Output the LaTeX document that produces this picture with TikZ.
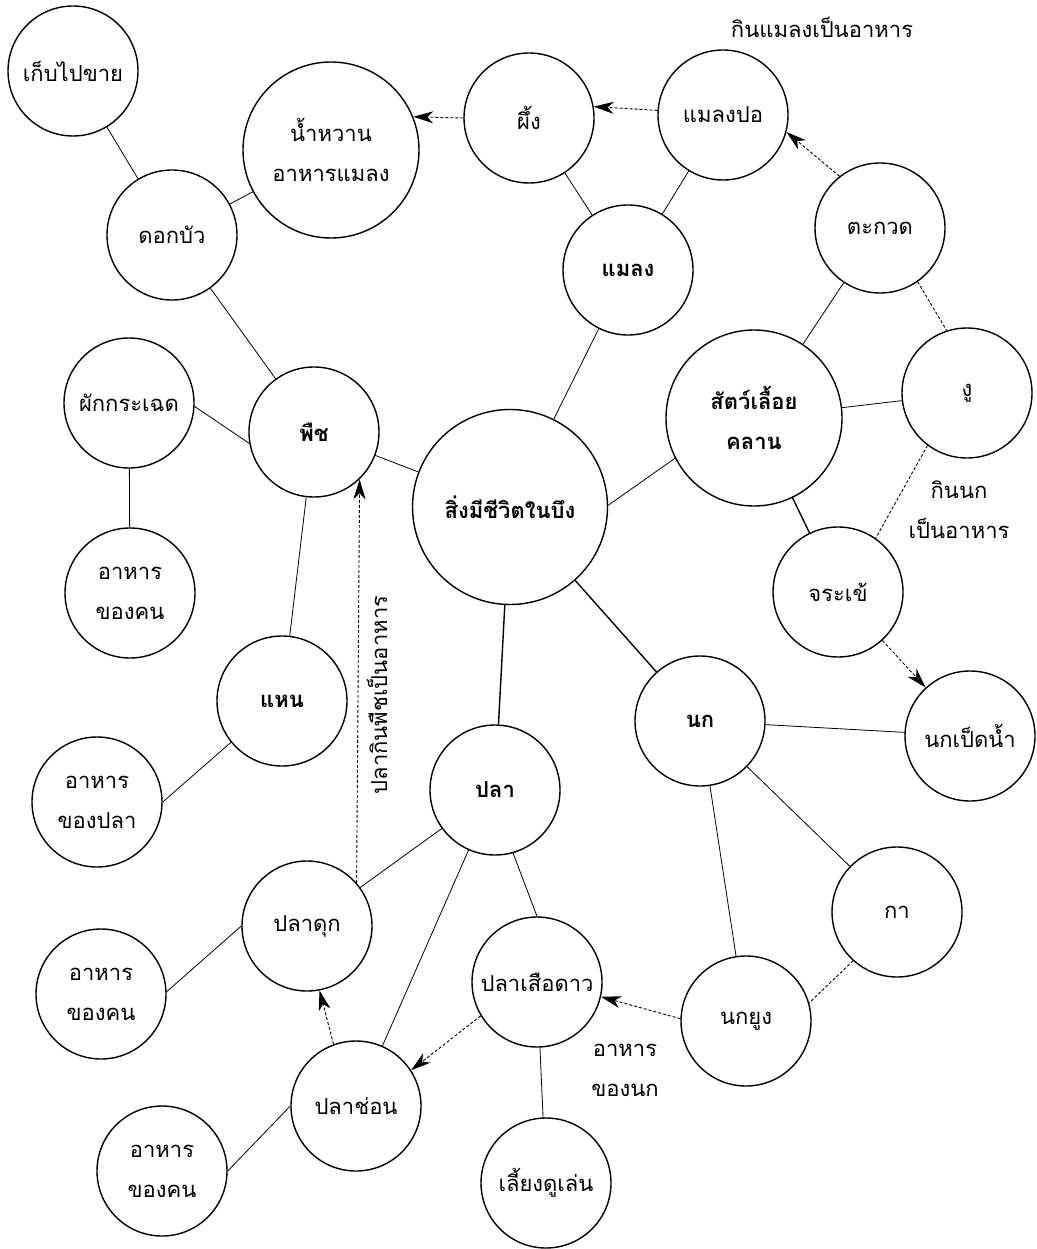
\documentclass[tikz,border=0pt]{standalone}
\usepackage{fontspec}
\setmainfont[Script=Thai]{Loma}
\usetikzlibrary{arrows.meta}

\begin{document}
\begin{tikzpicture}
    [%%%%%%%%%%%%%%%%%%%%%%%%%%%%%%
        x=1pt, y=-1pt,
        every node/.style={font=\fontsize{22}{40}\selectfont},
        bubble/.style={circle,draw=black,line width=1.4pt,minimum size=130pt,inner sep=0pt,align=center},
        hub/.style={bubble,font=\fontsize{22}{40}\selectfont\bfseries},
        link/.style={line width=0.8pt},
        trunk/.style={line width=1.4pt},
        hint/.style={line width=0.9pt,dash pattern=on 3pt off 2pt},
        feed/.style={hint,-{Stealth[length=20pt,width=12pt,inset=6pt]}},
        note/.style={align=center},
    ]%%%%%%%%%%%%%%%%%%%%%%%%%%%%%%
    \useasboundingbox (0,0) rectangle (1036,1249);

    % main groups
    \node[hub, minimum size=195pt] (center) at (510,507) {สิ่งมีชีวิตในบึง};
    \node[hub] (phuet) at (314,432) {พืช};
    \node[hub] (maelaeng) at (628,270) {แมลง};
    \node[hub, minimum size=176pt] (reptile) at (754,418) {สัตว์เลื้อย\\คลาน};
    \node[hub] (nok) at (700,721) {นก};
    \node[hub] (pla) at (495,790) {ปลา};
    \node[hub] (nhaen) at (282,701) {แหน};

    % plants
    \node[bubble] (dokbua) at (172,235) {ดอกบัว};
    \node[bubble] (sell) at (73,71) {เก็บไปขาย};
    \node[bubble, minimum size=176pt] (nectar) at (331,150) {น้ำหวาน\\อาหารแมลง};
    \node[bubble] (phakkrachet) at (129,403) {ผักกระเฉด};
    \node[bubble] (food1) at (130,593) {อาหาร\\ของคน};
    \node[bubble] (fishfood) at (97,802) {อาหาร\\ของปลา};

    % insects
    \node[bubble] (phueng) at (529,118) {ผึ้ง};
    \node[bubble] (malaengpo) at (723,115) {แมลงปอ};

    % reptiles
    \node[bubble] (takuat) at (880,228) {ตะกวด};
    \node[bubble] (ngu) at (967,393) {งู};
    \node[bubble] (chorakhe) at (838,592) {จระเข้};

    % birds
    \node[bubble] (nokpet) at (970,736) {นกเป็ดน้ำ};
    \node[bubble] (ka) at (897,912) {กา};
    \node[bubble] (nokyung) at (746,1021) {นกยูง};

    % fish
    \node[bubble] (pladuk) at (307,926) {ปลาดุก};
    \node[bubble] (food2) at (101,994) {อาหาร\\ของคน};
    \node[bubble] (plachon) at (356,1106) {ปลาช่อน};
    \node[bubble] (food3) at (162,1171) {อาหาร\\ของคน};
    \node[bubble] (plasuea) at (537,982) {ปลาเสือดาว};
    \node[bubble] (pet) at (546,1183) {เลี้ยงดูเล่น};

    % notes
    \node[note] (insectnote) at (822,27) {กินแมลงเป็นอาหาร};
    \node[note] (birdnote) at (959,510) {กินนก\\เป็นอาหาร};
    \node[note] (fishnote) at (625,1070) {อาหาร\\ของนก};
    \node[note, rotate=90] (plantnote) at (377,695) {ปลากินพืชเป็นอาหาร};

    % links
    \draw[link] (center) -- (phuet);
    \draw[link] (center) -- (maelaeng);
    \draw[link] (center.1) -- (reptile.207);
    \draw[trunk] (center) -- (nok);
    \draw[trunk] (center) -- (pla);

    \draw[link] (phuet) -- (dokbua);
    \draw[link] (dokbua) -- (sell);
    \draw[link] (dokbua) -- (nectar);
    \draw[link] (phuet.190) -- (phakkrachet.-3);
    \draw[link] (phakkrachet) -- (food1);
    \draw[link] (phuet) -- (nhaen);
    \draw[link] (nhaen.219) -- (fishfood.0);

    \draw[link] (maelaeng) -- (phueng);
    \draw[link] (maelaeng) -- (malaengpo);

    \draw[link] (reptile) -- (takuat);
    \draw[link] (reptile) -- (ngu);
    \draw[trunk] (reptile) -- (chorakhe);

    \draw[link] (nok) -- (nokpet);
    \draw[link] (nok) -- (ka);
    \draw[link] (nok) -- (nokyung);

    \draw[link] (pla) -- (pladuk);
    \draw[link] (pla) -- (plachon);
    \draw[link] (pla.-74) -- (plasuea.north);
    \draw[link] (pladuk.west) -- (food2.2);
    \draw[link] (plachon.west) -- (food3.east);
    \draw[link] (plasuea) -- (pet);

    % who eats whom
    \draw[feed] (phueng.180) -- (nectar.22);
    \draw[feed] (malaengpo.176) -- (phueng.10);
    \draw[feed] (takuat.128) -- (malaengpo.-15);
    \draw[hint] (takuat.-55) -- (ngu.108);
    \draw[hint] (ngu.-127) -- (chorakhe.55);
    \draw[feed] (chorakhe) -- (nokpet);
    \draw[hint] (ka.-132) -- (nokyung.16);
    \draw[feed] (nokyung.178) -- (plasuea.-13);
    \draw[feed] (plasuea.-149) -- (plachon.33);
    \draw[feed] (plachon.110) -- (pladuk.-79);
    \draw[feed] (pladuk.41) -- (phuet.-46);
\end{tikzpicture}
\end{document}
